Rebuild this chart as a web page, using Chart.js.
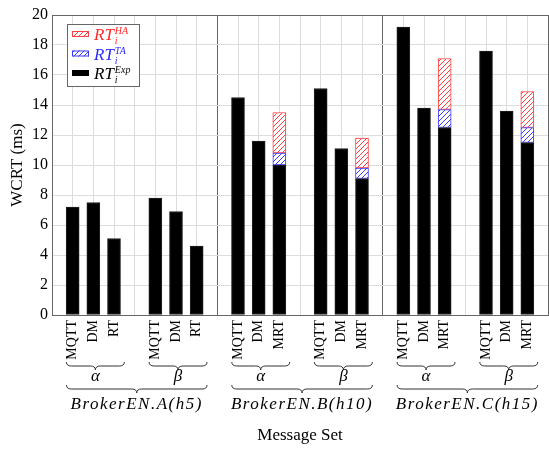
<!DOCTYPE html>
<html>
<head>
<meta charset="utf-8">
<script src="https://cdn.jsdelivr.net/npm/chart.js@4.4.1/dist/chart.umd.min.js"></script>
<style>
html, body { margin: 0; padding: 0; background: #ffffff; }
</style>
</head>
<body>
<canvas id="wcrt_bar" width="549" height="449"></canvas>
<script>
// data
var brokers = ["BrokerEN.A(h5)", "BrokerEN.B(h10)", "BrokerEN.C(h15)"];
var msgSets = ["\u03b1", "\u03b2"];
var methods = [["MQTT", "DM", "RT"], ["MQTT", "DM", "MRT"], ["MQTT", "DM", "MRT"]];

// one value per bar: broker -> message set -> method
var rtExp = [7.2, 7.5, 5.1,   7.8, 6.9, 4.6,
             14.5, 11.6, 10.0, 15.1, 11.1, 9.1,
             19.2, 13.8, 12.5, 17.6, 13.6, 11.5];
var rtTA  = [0, 0, 0,   0, 0, 0,
             0, 0, 0.8, 0, 0, 0.7,
             0, 0, 1.2, 0, 0, 1.0];
var rtHA  = [0, 0, 0,   0, 0, 0,
             0, 0, 2.7, 0, 0, 2.0,
             0, 0, 3.4, 0, 0, 2.4];

var yTicks = [0, 2, 4, 6, 8, 10, 12, 14, 16, 18, 20];

// build the slot list: empty slot before each broker, gap between alpha and beta
var labels = [];
var expData = [], taData = [], haData = [];
var k = 0;
for (var g = 0; g < brokers.length; g++) {
    labels.push(""); expData.push(null); taData.push(null); haData.push(null);
    for (var s = 0; s < msgSets.length; s++) {
        if (s > 0) { labels.push(""); expData.push(null); taData.push(null); haData.push(null); }
        for (var m = 0; m < methods[g].length; m++) {
            labels.push(methods[g][m]);
            expData.push(rtExp[k]);
            taData.push(rtTA[k] ? rtTA[k] : null);
            haData.push(rtHA[k] ? rtHA[k] : null);
            k++;
        }
    }
}
labels.push(""); expData.push(null); taData.push(null); haData.push(null);

function hatch(color) {
    var c = document.createElement("canvas");
    c.width = 5; c.height = 5;
    var x = c.getContext("2d");
    x.fillStyle = "#ffffff";
    x.fillRect(0, 0, 5, 5);
    x.strokeStyle = color;
    x.lineWidth = 1;
    x.beginPath();
    x.moveTo(0, 5); x.lineTo(5, 0);
    x.moveTo(-1, 1); x.lineTo(1, -1);
    x.moveTo(4, 6); x.lineTo(6, 4);
    x.stroke();
    return x.createPattern(c, "repeat");
}
var redHatch = hatch("#ff4040");
var blueHatch = hatch("#3a3aff");

function underbrace(ctx, x1, x2, y, h) {
    var mid = (x1 + x2) / 2, r = 5;
    ctx.beginPath();
    ctx.moveTo(x1, y - h);
    ctx.quadraticCurveTo(x1, y, x1 + r, y);
    ctx.lineTo(mid - r, y);
    ctx.quadraticCurveTo(mid, y, mid, y + h);
    ctx.quadraticCurveTo(mid, y, mid + r, y);
    ctx.lineTo(x2 - r, y);
    ctx.quadraticCurveTo(x2, y, x2, y - h);
    ctx.stroke();
}

function rtLabel(ctx, x, y, sup, color) {
    ctx.fillStyle = color;
    ctx.textBaseline = "alphabetic";
    ctx.textAlign = "left";
    ctx.font = "italic 17px 'Liberation Serif'";
    ctx.fillText("RT", x, y);
    var w = ctx.measureText("RT").width;
    ctx.font = "italic 10px 'Liberation Serif'";
    ctx.fillText("i", x + w + 1, y + 4);
    ctx.fillText(sup, x + w + 1, y - 6);
}

var annot = {
    id: "annot",
    afterDraw: function(chart) {
        var ctx = chart.ctx;
        var xs = chart.scales.x;
        ctx.save();
        ctx.strokeStyle = "#333333";
        ctx.lineWidth = 1;
        ctx.fillStyle = "#000000";
        ctx.textAlign = "center";
        ctx.textBaseline = "middle";
        for (var g = 0; g < brokers.length; g++) {
            var b = g * 8;
            for (var s = 0; s < msgSets.length; s++) {
                var a = xs.getPixelForValue(b + 0.7 + s * 4);
                var e = xs.getPixelForValue(b + 3.5 + s * 4);
                underbrace(ctx, a, e, 366, 4);
                ctx.font = "italic 17px 'Liberation Serif'";
                ctx.fillText(msgSets[s], (a + e) / 2, 377);
            }
            var a2 = xs.getPixelForValue(b + 0.7);
            var e2 = xs.getPixelForValue(b + 7.5);
            underbrace(ctx, a2, e2, 389, 4);
            ctx.font = "italic 17px 'Liberation Serif'";
            ctx.letterSpacing = "1.5px";
            ctx.fillText(brokers[g], (a2 + e2) / 2, 405);
            ctx.letterSpacing = "0px";
        }

        // legend box
        var lx = chart.chartArea.left + 15, ly = chart.chartArea.top + 9;
        ctx.fillStyle = "#ffffff";
        ctx.fillRect(lx, ly, 72, 62);
        ctx.strokeStyle = "#666666";
        ctx.strokeRect(lx + 0.5, ly + 0.5, 72, 62);
        var rows = [[redHatch, "#ff4040", "HA", "#ff2a2a"],
                    [blueHatch, "#3a3aff", "TA", "#2a2aff"],
                    ["#000000", "#000000", "Exp", "#000000"]];
        for (var i = 0; i < rows.length; i++) {
            var cy = ly + 10 + i * 19.5;
            ctx.fillStyle = rows[i][0];
            ctx.fillRect(lx + 5, cy - 3, 17, 6);
            ctx.strokeStyle = rows[i][1];
            ctx.strokeRect(lx + 5.5, cy - 2.5, 16, 5);
            rtLabel(ctx, lx + 27, cy + 6, rows[i][2], rows[i][3]);
        }
        ctx.restore();
    }
};

var graph = new Chart(document.getElementById("wcrt_bar"), {
    type: "bar",
    data: {
        labels: labels,
        datasets: [{
            label: "Exp",
            data: expData,
            backgroundColor: "#000000",
            borderColor: "#222222",
            borderWidth: 1,
            borderSkipped: false,
            barThickness: 13
        }, {
            label: "TA",
            data: taData,
            backgroundColor: blueHatch,
            borderColor: "#3a3aff",
            borderWidth: 1,
            borderSkipped: false,
            barThickness: 13
        }, {
            label: "HA",
            data: haData,
            backgroundColor: redHatch,
            borderColor: "#ff4040",
            borderWidth: 1,
            borderSkipped: false,
            barThickness: 13
        }]
    },
    options: {
        responsive: false,
        animation: false,
        layout: { padding: { top: 15, right: 1, left: 0, bottom: 0 } },
        font: { family: "'Liberation Serif'" },
        plugins: {
            legend: { display: false },
            tooltip: { enabled: false }
        },
        scales: {
            x: {
                stacked: true,
                offset: false,
                grid: {
                    offset: false,
                    drawTicks: false,
                    color: function(c) {
                        return (c.index === 8 || c.index === 16 || c.index === 24) ? "#666666" : "#dcdcdc";
                    }
                },
                border: { color: "#666666" },
                ticks: {
                    autoSkip: false,
                    minRotation: 90,
                    maxRotation: 90,
                    padding: 5,
                    color: "#000000",
                    font: { family: "'Liberation Serif'", size: 14 }
                },
                title: {
                    display: true,
                    text: "Message Set",
                    color: "#000000",
                    font: { family: "'Liberation Serif'", size: 17 },
                    padding: { top: 0, bottom: 3 }
                },
                afterFit: function(scale) {
                    scale.height = 134;
                    scale.paddingLeft = 0;
                    scale.paddingRight = 0;
                }
            },
            y: {
                stacked: true,
                min: 0,
                max: 20,
                afterBuildTicks: function(scale) {
                    scale.ticks = yTicks.map(function(v) { return { value: v }; });
                },
                grid: {
                    drawTicks: false,
                    color: function(c) { return c.tick.value === 20 ? "#666666" : "#dcdcdc"; }
                },
                border: { color: "#666666" },
                ticks: {
                    padding: 4,
                    color: "#000000",
                    font: { family: "'Liberation Serif'", size: 16 }
                },
                title: {
                    display: true,
                    text: "WCRT (ms)",
                    color: "#000000",
                    font: { family: "'Liberation Serif'", size: 17 },
                    padding: { top: 7, bottom: 0 }
                },
                afterFit: function(scale) { scale.width = 52; }
            }
        }
    },
    plugins: [annot]
});
</script>
</body>
</html>
